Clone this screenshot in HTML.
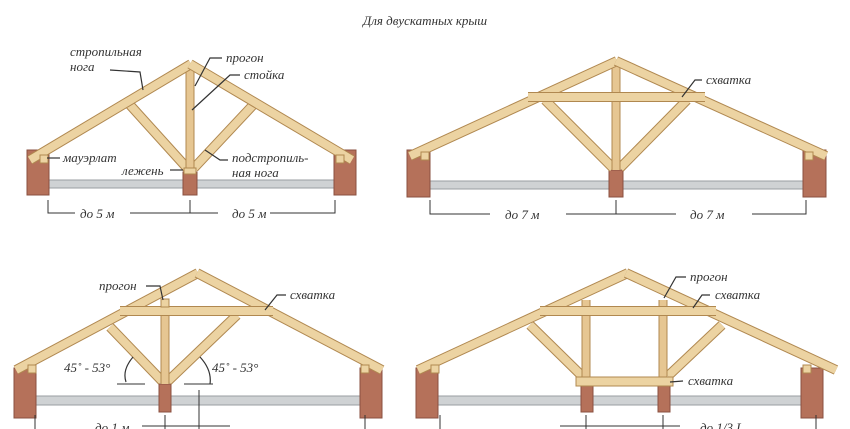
<!DOCTYPE html>
<html><head><meta charset="utf-8"><style>
html,body{margin:0;padding:0;background:#fff;width:850px;height:429px;overflow:hidden}
svg{display:block}
.o{stroke:#b08850;stroke-width:10;fill:none}
.i{stroke:#ecd3a2;stroke-width:8;fill:none}
.ov{stroke:#b08850;stroke-width:9}
.iv{stroke:#e6c692;stroke-width:7}
.br{fill:#b5715a;stroke:#8a5040;stroke-width:1}
.fl{fill:#cfd2d4;stroke:#9a9ea2;stroke-width:1}
.ld{stroke:#333;stroke-width:1.2;fill:none}
text{font-family:"Liberation Serif","DejaVu Serif",serif;font-style:italic;font-size:13px;fill:#333}
.dim{stroke:#333;stroke-width:1;fill:none}
</style></head><body>
<svg width="850" height="429" viewBox="0 0 850 429">
<text x="425" y="25" text-anchor="middle" font-size="13">Для двускатных крыш</text>

<!-- Diagram 1 -->
<rect class="fl" x="48" y="180" width="287" height="8"/>
<rect class="br" x="27" y="150" width="22" height="45"/>
<rect class="br" x="334" y="150" width="22" height="45"/>
<rect class="br" x="183" y="172" width="14" height="23"/>
<line class="o" x1="130" y1="105" x2="187" y2="168"/><line class="i" x1="130" y1="105" x2="187" y2="168"/>
<line class="o" x1="254" y1="104" x2="194" y2="168"/><line class="i" x1="254" y1="104" x2="194" y2="168"/>
<line class="ov" x1="190" y1="70" x2="190" y2="172"/><line class="iv" x1="190" y1="70" x2="190" y2="172"/>
<line class="o" x1="30" y1="160" x2="191" y2="64"/><line class="i" x1="30" y1="160" x2="191" y2="64"/>
<line class="o" x1="190" y1="64" x2="352" y2="160"/><line class="i" x1="190" y1="64" x2="352" y2="160"/>
<rect x="40" y="155" width="8" height="8" fill="#ecd3a2" stroke="#b08850"/>
<rect x="336" y="155" width="8" height="8" fill="#ecd3a2" stroke="#b08850"/>
<rect x="184" y="168" width="12" height="6" fill="#ecd3a2" stroke="#b08850"/>
<path class="ld" d="M110 70 L140 72 L143 90"/><text x="70" y="56">стропильная</text><text x="70" y="71">нога</text>
<path class="ld" d="M195 86 L210 58 L222 58"/><text x="226" y="62">прогон</text>
<path class="ld" d="M192 110 L230 75 L240 75"/><text x="244" y="79">стойка</text>
<path class="ld" d="M47 158 L60 158"/><text x="63" y="162">мауэрлат</text>
<path class="ld" d="M170 170 L183 170"/><text x="122" y="175">лежень</text>
<path class="ld" d="M205 150 L220 160 L228 160"/><text x="232" y="162">подстропиль-</text><text x="232" y="177">ная нога</text>
<path class="dim" d="M48 200 V213 H75 M130 213 H190 M190 200 V213 H218 M270 213 H335 V200"/>
<text x="80" y="218">до 5 м</text><text x="232" y="218">до 5 м</text>

<!-- Diagram 2 -->
<rect class="fl" x="430" y="181" width="373" height="8"/>
<rect class="br" x="407" y="150" width="23" height="47"/>
<rect class="br" x="803" y="150" width="23" height="47"/>
<rect class="br" x="609" y="170" width="14" height="27"/>
<line class="o" x1="545" y1="100" x2="613" y2="168"/><line class="i" x1="545" y1="100" x2="613" y2="168"/>
<line class="o" x1="687" y1="100" x2="620" y2="168"/><line class="i" x1="687" y1="100" x2="620" y2="168"/>
<line class="ov" x1="616" y1="66" x2="616" y2="170"/><line class="iv" x1="616" y1="66" x2="616" y2="170"/>
<line class="o" x1="410" y1="156" x2="617" y2="61"/><line class="i" x1="410" y1="156" x2="617" y2="61"/>
<line class="o" x1="616" y1="61" x2="826" y2="156"/><line class="i" x1="616" y1="61" x2="826" y2="156"/>
<line class="o" x1="528" y1="97" x2="705" y2="97"/><line class="i" x1="528" y1="97" x2="705" y2="97"/>
<rect x="421" y="152" width="8" height="8" fill="#ecd3a2" stroke="#b08850"/>
<rect x="805" y="152" width="8" height="8" fill="#ecd3a2" stroke="#b08850"/>
<path class="ld" d="M682 97 L695 80 L702 80"/><text x="706" y="84">схватка</text>
<path class="dim" d="M430 200 V214 H490 M566 214 H616 M616 200 V214 H676 M752 214 H806 V200"/>
<text x="505" y="219">до 7 м</text><text x="690" y="219">до 7 м</text>

<!-- Diagram 3 -->
<rect class="fl" x="35" y="396" width="326" height="9"/>
<rect class="br" x="14" y="368" width="22" height="50"/>
<rect class="br" x="360" y="368" width="22" height="50"/>
<rect class="br" x="159" y="384" width="12" height="28"/>
<line class="o" x1="110" y1="327" x2="162" y2="381"/><line class="i" x1="110" y1="327" x2="162" y2="381"/>
<line class="o" x1="237" y1="315" x2="168" y2="381"/><line class="i" x1="237" y1="315" x2="168" y2="381"/>
<line class="ov" x1="165" y1="300" x2="165" y2="384"/><line class="iv" x1="165" y1="300" x2="165" y2="384"/>
<line class="o" x1="16" y1="370" x2="198" y2="273"/><line class="i" x1="16" y1="370" x2="198" y2="273"/>
<line class="o" x1="197" y1="273" x2="382" y2="370"/><line class="i" x1="197" y1="273" x2="382" y2="370"/>
<line class="o" x1="120" y1="311" x2="273" y2="311"/><line class="i" x1="120" y1="311" x2="273" y2="311"/>
<rect x="28" y="365" width="8" height="8" fill="#ecd3a2" stroke="#b08850"/>
<rect x="361" y="365" width="8" height="8" fill="#ecd3a2" stroke="#b08850"/>
<rect x="161" y="299" width="8" height="8" fill="#ecd3a2" stroke="#b08850"/>
<path class="ld" d="M146 286 L160 286 L163 300"/><text x="99" y="290">прогон</text>
<path class="ld" d="M265 310 L277 295 L286 295"/><text x="290" y="299">схватка</text>
<text x="64" y="372">45˚ - 53°</text><text x="212" y="372">45˚ - 53°</text>
<path class="ld" d="M133 357 Q122 370 126 382"/><path class="dim" d="M117 384 H145"/>
<path class="ld" d="M200 357 Q212 370 210 384"/><path class="dim" d="M184 384 H213"/>
<path class="dim" d="M35 415 V429 M165 415 V429 M199 390 V429 M365 415 V429 M142 426 H230"/>
<text x="95" y="432">до 1 м</text>

<!-- Diagram 4 -->
<rect class="fl" x="438" y="396" width="364" height="9"/>
<rect class="br" x="416" y="368" width="22" height="50"/>
<rect class="br" x="801" y="368" width="22" height="50"/>
<rect class="br" x="581" y="385" width="12" height="27"/>
<rect class="br" x="658" y="385" width="12" height="27"/>
<line class="o" x1="530" y1="325" x2="582" y2="376"/><line class="i" x1="530" y1="325" x2="582" y2="376"/>
<line class="o" x1="722" y1="325" x2="668" y2="376"/><line class="i" x1="722" y1="325" x2="668" y2="376"/>
<line class="ov" x1="586" y1="300" x2="586" y2="380"/><line class="iv" x1="586" y1="300" x2="586" y2="380"/>
<line class="ov" x1="663" y1="300" x2="663" y2="380"/><line class="iv" x1="663" y1="300" x2="663" y2="380"/>
<line class="o" x1="418" y1="370" x2="628" y2="273"/><line class="i" x1="418" y1="370" x2="628" y2="273"/>
<line class="o" x1="626" y1="273" x2="836" y2="370"/><line class="i" x1="626" y1="273" x2="836" y2="370"/>
<line class="o" x1="540" y1="311" x2="716" y2="311"/><line class="i" x1="540" y1="311" x2="716" y2="311"/>
<rect x="576" y="377" width="97" height="9" fill="#ecd3a2" stroke="#b08850"/>
<rect x="431" y="365" width="8" height="8" fill="#ecd3a2" stroke="#b08850"/>
<rect x="803" y="365" width="8" height="8" fill="#ecd3a2" stroke="#b08850"/>
<path class="ld" d="M664 298 L676 277 L686 277"/><text x="690" y="281">прогон</text>
<path class="ld" d="M693 308 L702 295 L710 295"/><text x="715" y="299">схватка</text>
<path class="ld" d="M670 382 L683 381"/><text x="688" y="385">схватка</text>
<path class="dim" d="M440 415 V429 M586 415 V429 M663 415 V429 M816 415 V429 M560 426 H680"/>
<text x="700" y="432">до 1/3 L</text>
</svg>
</body></html>
